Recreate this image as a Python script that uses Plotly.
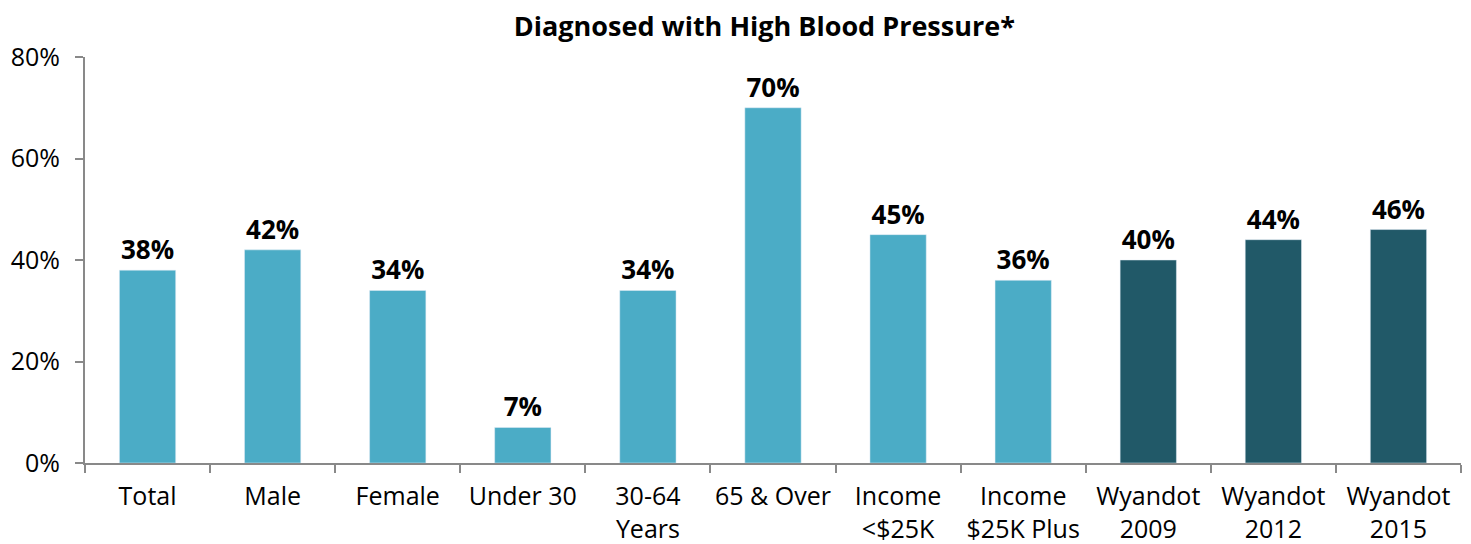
import plotly.graph_objects as go

categories = ["Total", "Male", "Female", "Under 30", "30-64<br>Years", "65 & Over",
              "Income<br><$25K", "Income<br>$25K Plus", "Wyandot<br>2009",
              "Wyandot<br>2012", "Wyandot<br>2015"]
values = [38, 42, 34, 7, 34, 70, 45, 36, 40, 44, 46]

LIGHT = "#4BACC6"
DARK = "#215968"
AXIS = "#898989"
FONT = "Open Sans"

colors = [DARK if c.startswith("Wyandot") else LIGHT for c in categories]

fig = go.Figure(go.Bar(
    x=categories, y=values,
    marker_color=colors,
    text=[f"<b>{v}%</b>" for v in values],
    textposition="outside",
    textfont=dict(size=26, color="black", family=FONT),
    cliponaxis=False,
))

# page body has an 8px margin, so the figure is sized to fit inside it
fig.update_layout(
    width=1463, height=536,
    plot_bgcolor="white", paper_bgcolor="white",
    margin=dict(l=77, r=10, t=49, b=81, autoexpand=False),
    bargap=0.55,
    showlegend=False,
    title=dict(text="<b>Diagnosed with High Blood Pressure*</b>", x=0.517, xanchor="center",
               y=0.966, yanchor="middle",
               font=dict(size=27, color="black", family=FONT)),
    font=dict(family=FONT, color="black", size=25),
)
fig.update_xaxes(
    showline=True, linecolor=AXIS, linewidth=2,
    ticks="outside", tickson="boundaries", ticklen=8, tickcolor=AXIS, tickwidth=2,
    tickangle=0, automargin=False,
    ticklabelstandoff=10,
    tickfont=dict(size=25, color="black"),
)
fig.update_yaxes(
    range=[0, 80], dtick=20, ticksuffix="%",
    showgrid=False, zeroline=False,
    showline=True, linecolor=AXIS, linewidth=2,
    ticks="outside", ticklen=8, tickcolor=AXIS, tickwidth=2,
    automargin=False,
    ticklabelstandoff=10,
    tickfont=dict(size=25, color="black"),
)

fig.write_html("out.html")
